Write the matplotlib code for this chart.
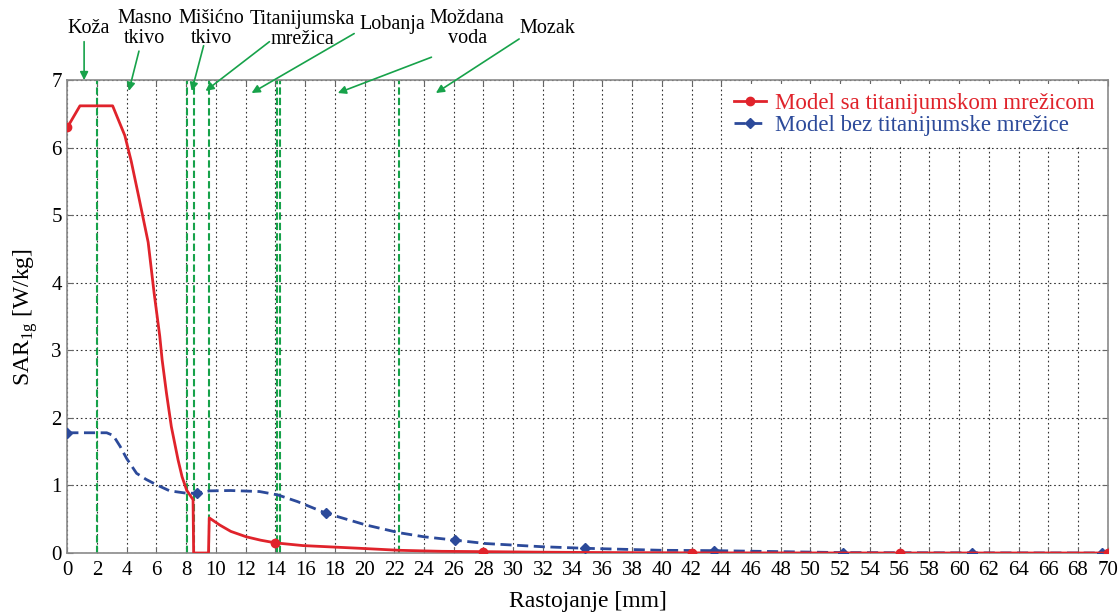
import matplotlib
matplotlib.use("Agg")
import matplotlib.pyplot as plt

plt.rcParams['font.family'] = ['Liberation Serif', 'DejaVu Serif']
plt.rcParams['mathtext.fontset'] = 'custom'
plt.rcParams['mathtext.rm'] = 'Liberation Serif'

# ---- data ----
red_x = [0, 0.85, 3.05, 3.87, 4.3, 4.8, 5.44, 5.84, 6.22, 6.38, 6.67, 7.0, 7.45, 7.72,
         8.03, 8.46, 8.5, 9.5, 9.55, 10.25, 11.0, 12.04, 13.0, 14.0, 15.84, 19.64,
         22.33, 25.2, 28.0, 32.0, 35.0, 42.0, 56.0, 70.0]
red_y = [6.3, 6.62, 6.62, 6.18, 5.8, 5.28, 4.6, 3.85, 3.21, 2.86, 2.37, 1.87, 1.38, 1.13,
         0.93, 0.79, 0.0, 0.0, 0.52, 0.415, 0.32, 0.24, 0.19, 0.15, 0.11, 0.07,
         0.04, 0.025, 0.02, 0.012, 0.008, 0.002, 0.0, 0.0]
red_marker_x = [0, 14.0, 28.0, 42.0, 56.0, 70.0]

blue_x = [0, 2.65, 3.09, 3.55, 3.99, 4.66, 5.3, 6.0, 6.89, 8.03, 8.7, 9.58, 11.0, 12.93,
          14.16, 15.5, 17.4, 20.09, 22.33, 24.0, 26.1, 28.15, 31.95, 34.8, 40.0, 43.5,
          48.0, 52.2, 60.9, 69.6, 70.0]
blue_y = [1.78, 1.78, 1.74, 1.58, 1.40, 1.18, 1.09, 1.01, 0.92, 0.885, 0.885, 0.92, 0.925,
          0.91, 0.86, 0.76, 0.59, 0.415, 0.30, 0.24, 0.19, 0.14, 0.093, 0.07, 0.04, 0.035,
          0.02, 0.006, 0.002, 0.0, 0.0]
blue_marker_x = [0, 8.7, 17.4, 26.1, 34.8, 43.5, 52.2, 60.9, 69.6]

boundaries = [2.0, 8.03, 8.5, 9.53, 14.12, 14.3, 22.33]

layer_labels = ["Koža", "Masno\ntkivo", "Mišićno\ntkivo", "Titanijumska\nmrežica",
                "Lobanja", "Moždana\nvoda", "Mozak"]
label_pos = [(1.42, 7.77), (5.18, 7.76), (9.71, 7.76), (15.82, 7.75),
             (21.86, 7.83), (26.9, 7.76), (32.3, 7.77)]
arrow_tail = [(1.13, 7.57), (4.82, 7.43), (9.17, 7.51), (13.6, 7.57),
              (19.3, 7.69), (24.5, 7.34), (30.4, 7.61)]
arrow_tip = [(1.13, 7.0), (4.14, 6.84), (8.37, 6.84), (9.3, 6.84),
             (12.4, 6.81), (18.2, 6.81), (24.8, 6.81)]

x_ticks = list(range(0, 71, 2))
y_ticks = list(range(0, 8))

red_label = "Model sa titanijumskom mrežicom"
blue_label = "Model bez titanijumske mrežice"

RED = '#e0232b'
BLUE = '#2c4a9a'
GREEN = '#17a24a'

fig = plt.figure(figsize=(11.2, 6.12), dpi=100)
ax = fig.add_axes([0.0601, 0.0964, 0.9289, 0.7726])

ax.set_xlim(0, 70)
ax.set_ylim(0, 7)
ax.set_xticks(x_ticks)
ax.set_yticks(y_ticks)
ax.tick_params(axis='both', direction='in', labelsize=15, length=4, color='#666666',
               top=True, right=True)
ax.tick_params(axis='x', pad=6)
ax.tick_params(axis='y', pad=4)
for s in ax.spines.values():
    s.set_color('#8a8a8a')
    s.set_linewidth(1.2)

ax.grid(True, color='#333333', linestyle=(0, (1.5, 2.5)), linewidth=0.8)
ax.set_axisbelow(True)

for b in boundaries:
    ax.axvline(b, color=GREEN, linestyle=(0, (3.5, 1.5)), linewidth=1.5, zorder=2)

red_idx = [i for i, v in enumerate(red_x) if v in red_marker_x]
blue_idx = [i for i, v in enumerate(blue_x) if v in blue_marker_x]

ax.plot(red_x, red_y, color=RED, linewidth=2.0, marker='o', markersize=6,
        markevery=red_idx, label=red_label, zorder=4)
ax.plot(blue_x, blue_y, color=BLUE, linewidth=2.0, linestyle=(0, (4, 2)), marker='D',
        markersize=5, markevery=blue_idx, label=blue_label, zorder=3)

for lab, (tx, ty), (ax0, ay0), (ax1, ay1) in zip(layer_labels, label_pos, arrow_tail, arrow_tip):
    ax.text(tx, ty, lab, ha='center', va='center', fontsize=14.5, linespacing=1.05,
            clip_on=False)
    ax.annotate('', xy=(ax1, ay1), xytext=(ax0, ay0), annotation_clip=False,
                arrowprops=dict(arrowstyle='-|>', color=GREEN, lw=1.2,
                                mutation_scale=12, shrinkA=0, shrinkB=0))

leg = ax.legend(loc='upper right', fontsize=16.5, frameon=True, handlelength=1.4,
                handletextpad=0.4, borderaxespad=0.15, labelspacing=0.05,
                borderpad=0.4)
leg.get_frame().set_edgecolor('none')
leg.get_frame().set_facecolor('white')
leg.get_frame().set_alpha(1.0)
for t, c in zip(leg.get_texts(), [RED, BLUE]):
    t.set_color(c)

ax.set_xlabel("Rastojanje [mm]", fontsize=17, labelpad=8)
ax.set_ylabel(r"SAR$_{\mathrm{1g}}$ [W/kg]", fontsize=17, labelpad=8)

fig.savefig("out.png", dpi=100)
